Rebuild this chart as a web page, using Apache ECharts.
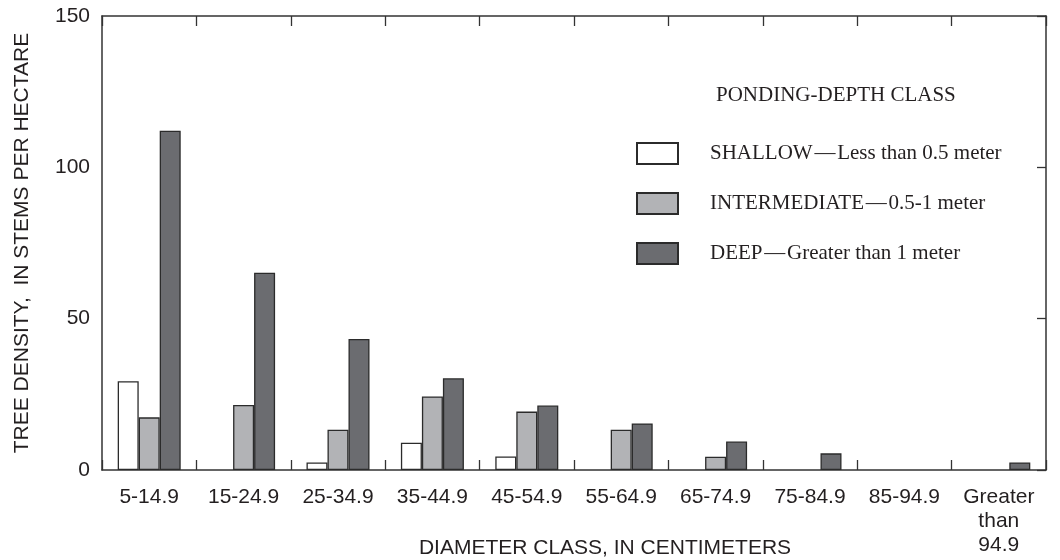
<!DOCTYPE html>
<html>
<head>
<meta charset="utf-8">
<script src="https://cdn.jsdelivr.net/npm/echarts@6/dist/echarts.min.js"></script>
<style>html,body{margin:0;padding:0;background:#fff}#c{width:1060px;height:560px}</style>
</head>
<body>
<div id="c"></div>
<script>
var categories = ['5-14.9','15-24.9','25-34.9','35-44.9','45-54.9','55-64.9','65-74.9','75-84.9','85-94.9','Greater\nthan\n94.9'];
var seriesNames = ['SHALLOW','INTERMEDIATE','DEEP'];
var seriesDesc = ['Less than 0.5 meter','0.5-1 meter','Greater than 1 meter'];
var shallow = [29.3, 0, 2.5, 9.0, 4.5, 0, 0, 0, 0, 0];
var intermediate = [17.4, 21.5, 13.3, 24.3, 19.3, 13.3, 4.4, 0, 0, 0];
var deep = [112.1, 65.2, 43.3, 30.3, 21.3, 15.4, 9.4, 5.5, 0, 2.5];
var yTicks = [0, 50, 100, 150];

var colors = ['#ffffff', '#b2b3b6', '#6b6c70'];
var sans = "'Liberation Sans', Arial, sans-serif";
var serif = "'Liberation Serif', 'Times New Roman', serif";
var ink = '#231f20';

var chart = echarts.init(document.getElementById('c'), null, {renderer: 'canvas'});
var dataSets = [shallow, intermediate, deep];
var series = seriesNames.map(function (n, i) {
  return {
    name: n,
    type: 'bar',
    xAxisIndex: 0,
    yAxisIndex: 0,
    barWidth: 21,
    barGap: '0%',
    data: dataSets[i].map(function (v) { return v > 0 ? v : null; }),
    itemStyle: {color: colors[i], borderColor: '#2b2b2b', borderWidth: 1.3},
    emphasis: {disabled: true},
    animation: false
  };
});

var lineStyle = {color: '#333', width: 1.5};
var tickStyle = {color: '#333', width: 1.3};

chart.setOption({
  animation: false,
  grid: {left: 102, right: 14, top: 16, bottom: 90, containLabel: false},
  legend: {
    orient: 'vertical',
    left: 636,
    top: 142,
    padding: 0,
    icon: 'rect',
    itemWidth: 41,
    itemHeight: 21,
    itemGap: 27,
    selectedMode: false,
    textStyle: {fontFamily: serif, fontSize: 21, color: ink, padding: [0, 0, 0, 27]},
    formatter: function (name) {
      var i = seriesNames.indexOf(name);
      return name + '\u200A\u2014\u200A' + seriesDesc[i];
    },
    data: seriesNames
  },
  graphic: [
    {type: 'text', left: 716, top: 85, style: {text: 'PONDING-DEPTH CLASS', font: '21px ' + serif, fill: ink}},
    {type: 'text', x: 605, y: 548, style: {text: 'DIAMETER CLASS, IN CENTIMETERS', font: '21px ' + sans, fill: ink, textAlign: 'center', textVerticalAlign: 'middle'}}
  ],
  xAxis: [
    {
      type: 'category',
      data: categories,
      position: 'bottom',
      boundaryGap: true,
      axisLine: {show: true, onZero: false, lineStyle: lineStyle},
      axisTick: {show: true, inside: true, length: 10, interval: 0, lineStyle: tickStyle},
      axisLabel: {interval: 0, margin: 15, fontFamily: sans, fontSize: 21, color: ink, lineHeight: 24},
      splitLine: {show: false}
    },
    {
      type: 'category',
      data: categories,
      position: 'top',
      boundaryGap: true,
      axisLine: {show: true, onZero: false, lineStyle: lineStyle},
      axisTick: {show: true, inside: true, length: 10, interval: 0, lineStyle: tickStyle},
      axisLabel: {show: false},
      splitLine: {show: false}
    }
  ],
  yAxis: [
    {
      type: 'value',
      min: 0, max: 150, interval: 50,
      position: 'left',
      name: 'TREE DENSITY,  IN STEMS PER HECTARE',
      nameLocation: 'middle',
      nameGap: 69,
      nameTextStyle: {fontFamily: sans, fontSize: 21, color: ink},
      axisLine: {show: true, onZero: false, lineStyle: lineStyle},
      axisTick: {show: false},
      axisLabel: {margin: 12, fontFamily: sans, fontSize: 21, color: ink,
        formatter: function (v) { return yTicks.indexOf(v) >= 0 ? String(v) : ''; }},
      splitLine: {show: false}
    },
    {
      type: 'value',
      min: 0, max: 150, interval: 50,
      position: 'right',
      axisLine: {show: true, onZero: false, lineStyle: lineStyle},
      axisTick: {show: true, inside: true, length: 9, lineStyle: tickStyle},
      axisLabel: {show: false},
      splitLine: {show: false}
    }
  ],
  series: series
});
</script>
</body>
</html>
